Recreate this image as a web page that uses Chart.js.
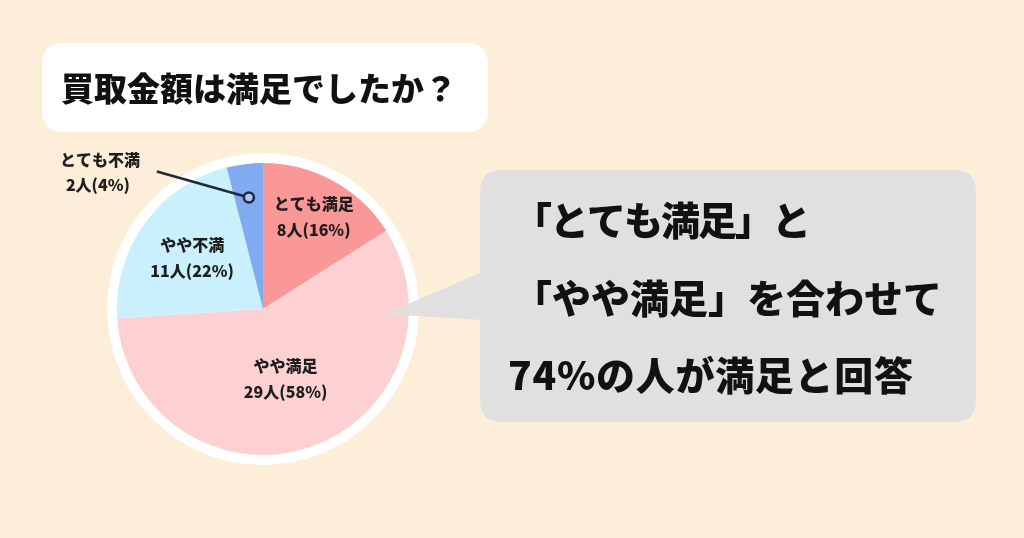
<!DOCTYPE html>
<html lang="ja">
<head>
<meta charset="utf-8">
<script src="https://cdn.jsdelivr.net/npm/chart.js@4.4.1/dist/chart.umd.min.js"></script>
<style>
  html, body { margin: 0; padding: 0; background: #fdeed9; }
  #c { display: block; }
</style>
</head>
<body>
<canvas id="c" width="1024" height="538"></canvas>
<script>
// ---- data ----
const title = "買取金額は満足でしたか？";
const categories = ["とても満足", "やや満足", "やや不満", "とても不満"];
const counts = [8, 29, 11, 2];
const sliceColors = ["#fa9898", "#fdd1d1", "#c9f0fc", "#80abf1"];
const calloutLines = ["「とても満足」と", "「やや満足」を合わせて", "%の人が満足と回答"];

const total = counts.reduce((a, b) => a + b, 0);
const pct = counts.map(v => Math.round(v / total * 100));
const satisfiedPct = Math.round((counts[0] + counts[1]) / total * 100);

const FONT = '"Noto Sans CJK JP", "Noto Sans", sans-serif';

function roundRect(ctx, x, y, w, h, r) {
  ctx.beginPath();
  ctx.moveTo(x + r, y);
  ctx.lineTo(x + w - r, y);
  ctx.quadraticCurveTo(x + w, y, x + w, y + r);
  ctx.lineTo(x + w, y + h - r);
  ctx.quadraticCurveTo(x + w, y + h, x + w - r, y + h);
  ctx.lineTo(x + r, y + h);
  ctx.quadraticCurveTo(x, y + h, x, y + h - r);
  ctx.lineTo(x, y + r);
  ctx.quadraticCurveTo(x, y, x + r, y);
  ctx.closePath();
}

const decor = {
  id: 'decor',
  beforeDraw(chart) {
    const ctx = chart.ctx;
    ctx.save();
    ctx.fillStyle = '#fdeed9';
    ctx.fillRect(0, 0, chart.width, chart.height);
    // title box
    ctx.fillStyle = '#ffffff';
    roundRect(ctx, 42, 43, 446, 89, 22);
    ctx.fill();
    ctx.fillStyle = '#111111';
    ctx.font = '900 33px ' + FONT;
    ctx.textBaseline = 'middle';
    ctx.textAlign = 'left';
    ctx.fillText(title, 61, 88);
    // white ring behind pie
    const arc = chart.getDatasetMeta(0).data[0];
    if (arc) {
      ctx.beginPath();
      ctx.arc(arc.x, arc.y, arc.outerRadius + 10, 0, Math.PI * 2);
      ctx.fillStyle = '#ffffff';
      ctx.fill();
    }
    ctx.restore();
  },
  afterDatasetsDraw(chart) {
    const ctx = chart.ctx;
    const arcs = chart.getDatasetMeta(0).data;
    const radial = [0.72, 0.50, 0.60, 0.77];
    const posOf = (i) => {
      const a = arcs[i];
      const mid = (a.startAngle + a.endAngle) / 2;
      const r = a.outerRadius * radial[i];
      return { x: a.x + Math.cos(mid) * r, y: a.y + Math.sin(mid) * r };
    };
    ctx.save();
    ctx.fillStyle = '#1e1e1e';
    ctx.font = '900 16px ' + FONT;
    ctx.textAlign = 'center';
    ctx.textBaseline = 'middle';
    for (let i = 0; i < 3; i++) {
      const p = posOf(i);
      ctx.fillText(categories[i], p.x, p.y - 13);
      ctx.fillText(counts[i] + '人(' + pct[i] + '%)', p.x, p.y + 13);
    }
    // outside label for small slice
    const m = posOf(3);
    ctx.strokeStyle = '#1f2a38';
    ctx.lineWidth = 2.5;
    ctx.beginPath();
    ctx.moveTo(m.x - 92, m.y - 26);
    ctx.lineTo(m.x, m.y);
    ctx.stroke();
    ctx.beginPath();
    ctx.arc(m.x, m.y, 5, 0, Math.PI * 2);
    ctx.fillStyle = '#a9c6f6';
    ctx.fill();
    ctx.stroke();
    ctx.fillStyle = '#1e1e1e';
    ctx.fillText(categories[3], m.x - 149, m.y - 38);
    ctx.fillText(counts[3] + '人(' + pct[3] + '%)', m.x - 151, m.y - 13);

    // callout box with pointer
    ctx.fillStyle = '#e0e0e0';
    roundRect(ctx, 480, 170, 496, 252, 22);
    ctx.fill();
    ctx.beginPath();
    ctx.moveTo(482, 272);
    ctx.lineTo(385, 314);
    ctx.lineTo(482, 320);
    ctx.closePath();
    ctx.fill();
    ctx.fillStyle = '#111111';
    ctx.font = '900 39px ' + FONT;
    ctx.textAlign = 'left';
    ctx.textBaseline = 'middle';
    ctx.letterSpacing = '-2px';
    ctx.fillText(calloutLines[0], 513, 220);
    ctx.letterSpacing = '0px';
    ctx.fillText(calloutLines[1], 513, 298);
    ctx.letterSpacing = '0.7px';
    ctx.fillText(satisfiedPct + calloutLines[2], 508, 375);
    ctx.letterSpacing = '0px';
    ctx.restore();
  }
};

new Chart(document.getElementById('c'), {
  type: 'pie',
  data: {
    labels: categories,
    datasets: [{
      data: counts,
      backgroundColor: sliceColors,
      borderWidth: 0
    }]
  },
  options: {
    responsive: false,
    animation: false,
    events: [],
    layout: { padding: { left: 117, top: 163, right: 615, bottom: 83 } },
    plugins: {
      legend: { display: false },
      tooltip: { enabled: false }
    }
  },
  plugins: [decor]
});
</script>
</body>
</html>
